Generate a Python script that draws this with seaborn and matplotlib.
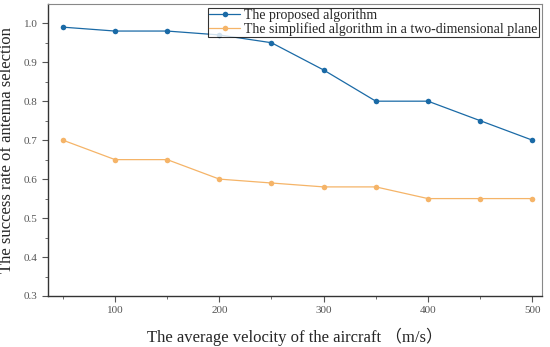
import numpy as np
import pandas as pd
import matplotlib
matplotlib.use("Agg")
import matplotlib.pyplot as plt
import seaborn as sns
from matplotlib.ticker import MultipleLocator, FormatStrFormatter

velocity = [50, 100, 150, 200, 250, 300, 350, 400, 450, 500]
proposed = [0.99, 0.98, 0.98, 0.97, 0.95, 0.88, 0.80, 0.80, 0.75, 0.70]
simplified = [0.70, 0.65, 0.65, 0.60, 0.59, 0.58, 0.58, 0.55, 0.55, 0.55]
series_names = ["The proposed algorithm",
                "The simplified algorithm in a two-dimensional plane"]

df = pd.DataFrame({
    "velocity": velocity * 2,
    "rate": proposed + simplified,
    "series": [series_names[0]] * len(velocity) + [series_names[1]] * len(velocity),
})

sns.set_style("ticks")
plt.rcParams["font.family"] = ["Liberation Serif", "Noto Sans CJK SC"]

fig, ax = plt.subplots(figsize=(5.5, 3.47), dpi=100)
fig.subplots_adjust(left=0.087, right=0.986, top=0.988, bottom=0.147)

sns.lineplot(data=df, x="velocity", y="rate", hue="series",
             palette=["#1a6aa6", "#f5b468"], marker="o", markersize=4,
             markeredgewidth=0, linewidth=0.9, ax=ax)

ax.set_xlim(35.6, 509.6)
ax.set_ylim(0.3, 1.049)
ax.xaxis.set_major_locator(MultipleLocator(100))
ax.xaxis.set_minor_locator(MultipleLocator(50))
ax.yaxis.set_major_locator(MultipleLocator(0.1))
ax.yaxis.set_minor_locator(MultipleLocator(0.05))
ax.yaxis.set_major_formatter(FormatStrFormatter("%.1f"))
ax.tick_params(which="both", direction="out", colors="#555555", labelsize=8)
ax.tick_params(which="major", length=4)
ax.tick_params(which="minor", length=2)

for side in ["top", "right"]:
    ax.spines[side].set_visible(True)
    ax.spines[side].set_color("#888888")
for side in ["left", "bottom"]:
    ax.spines[side].set_color("#333333")
    ax.spines[side].set_linewidth(1.0)

ax.set_xlabel("The average velocity of the aircraft （m/s）", fontsize=12, labelpad=9)
ax.set_ylabel("The success rate of antenna selection", fontsize=12, labelpad=6)

leg = ax.legend(loc="upper right", fontsize=10, frameon=True, fancybox=False,
                borderpad=0.1, labelspacing=0.0, handlelength=2.2,
                handletextpad=0.3, borderaxespad=0.25)
leg.get_frame().set_edgecolor("black")
leg.get_frame().set_linewidth(0.8)

fig.savefig("out.png", dpi=100)
